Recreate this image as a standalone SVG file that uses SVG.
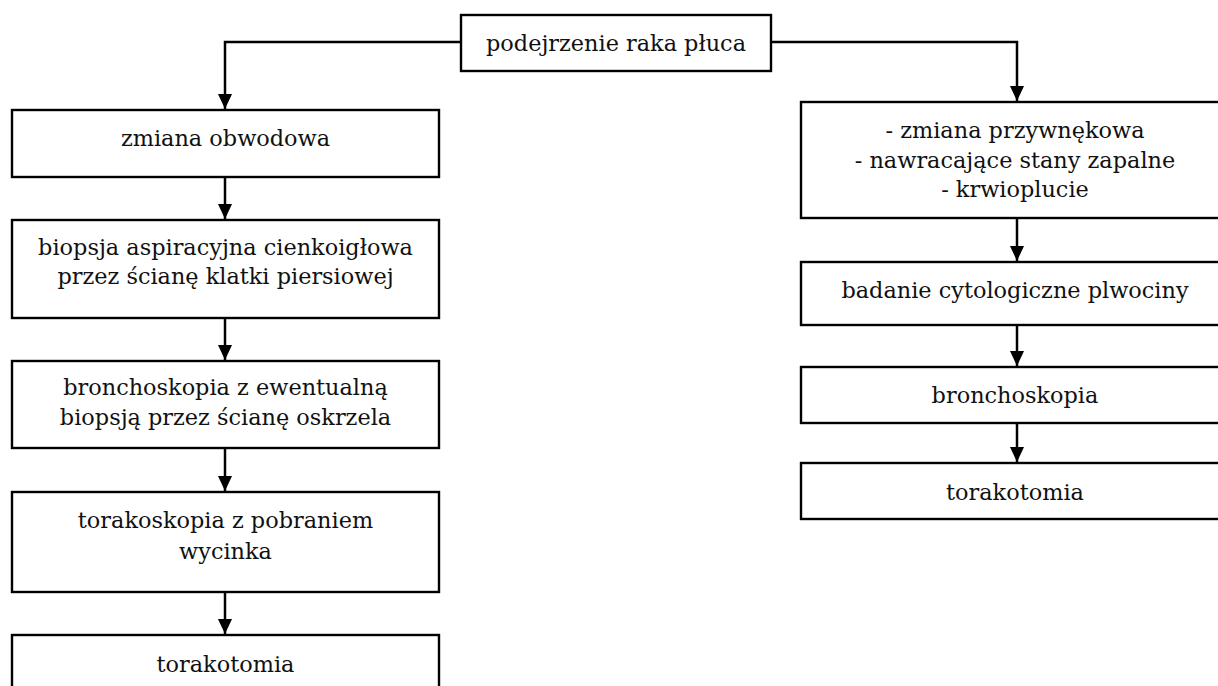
<svg xmlns="http://www.w3.org/2000/svg" width="1218" height="686" viewBox="0 0 1218 686">
<style>
  .box { fill: #ffffff; stroke: #000000; stroke-width: 2.4; }
  .lbl { font-family: "DejaVu Serif", "Liberation Serif", serif; font-size: 22.4px; fill: #111111; text-anchor: middle; }
  .conn { fill: none; stroke: #000000; stroke-width: 2.5; }
</style>
<defs>
  <marker id="arr" markerUnits="userSpaceOnUse" markerWidth="15" markerHeight="14" refX="15" refY="7" orient="auto">
    <path d="M0,0 L15,7 L0,14 z" fill="#000000"/>
  </marker>
</defs>
<rect width="1218" height="686" fill="#ffffff"/>

<g id="connectors">
  <path class="conn" d="M461,42 H225 V109" marker-end="url(#arr)"/>
  <path class="conn" d="M771,42 H1017 V101" marker-end="url(#arr)"/>
  <path class="conn" d="M225,177 V219" marker-end="url(#arr)"/>
  <path class="conn" d="M225,318 V360" marker-end="url(#arr)"/>
  <path class="conn" d="M225,448 V491" marker-end="url(#arr)"/>
  <path class="conn" d="M225,592 V634" marker-end="url(#arr)"/>
  <path class="conn" d="M1017,218 V261" marker-end="url(#arr)"/>
  <path class="conn" d="M1017,325 V366" marker-end="url(#arr)"/>
  <path class="conn" d="M1017,423 V462" marker-end="url(#arr)"/>
</g>

<g id="n-root">
  <rect class="box" x="461" y="15" width="310" height="56"/>
  <text class="lbl" x="616" y="51">podejrzenie raka płuca</text>
</g>

<g id="n-zmiana-obwodowa">
  <rect class="box" x="12" y="110" width="427" height="67"/>
  <text class="lbl" x="225.5" y="146">zmiana obwodowa</text>
</g>
<g id="n-biopsja">
  <rect class="box" x="12" y="220" width="427" height="98"/>
  <text class="lbl" x="225.5" y="255">biopsja aspiracyjna cienkoigłowa</text>
  <text class="lbl" x="225.5" y="284">przez ścianę klatki piersiowej</text>
</g>
<g id="n-bronchoskopia-l">
  <rect class="box" x="12" y="361" width="427" height="87"/>
  <text class="lbl" x="225.5" y="395">bronchoskopia z ewentualną</text>
  <text class="lbl" x="225.5" y="425">biopsją przez ścianę oskrzela</text>
</g>
<g id="n-torakoskopia">
  <rect class="box" x="12" y="492" width="427" height="100"/>
  <text class="lbl" x="225.5" y="528">torakoskopia z pobraniem</text>
  <text class="lbl" x="225.5" y="559">wycinka</text>
</g>
<g id="n-torakotomia-l">
  <rect class="box" x="12" y="635" width="427" height="70"/>
  <text class="lbl" x="225.5" y="672">torakotomia</text>
</g>

<g id="n-zmiana-przywnekowa">
  <rect class="box" x="801" y="102" width="430" height="116"/>
  <text class="lbl" x="1015" y="138">- zmiana przywnękowa</text>
  <text class="lbl" x="1015" y="168">- nawracające stany zapalne</text>
  <text class="lbl" x="1015" y="197">- krwioplucie</text>
</g>
<g id="n-badanie">
  <rect class="box" x="801" y="262" width="430" height="63"/>
  <text class="lbl" x="1015" y="298">badanie cytologiczne plwociny</text>
</g>
<g id="n-bronchoskopia-r">
  <rect class="box" x="801" y="367" width="430" height="56"/>
  <text class="lbl" x="1015" y="403">bronchoskopia</text>
</g>
<g id="n-torakotomia-r">
  <rect class="box" x="801" y="463" width="430" height="56"/>
  <text class="lbl" x="1015" y="500">torakotomia</text>
</g>
</svg>
